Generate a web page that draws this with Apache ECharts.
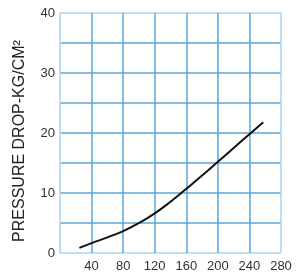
<!DOCTYPE html>
<html><head><meta charset="utf-8">
<script src="https://cdn.jsdelivr.net/npm/echarts@6/dist/echarts.min.js"></script>
<style>html,body{margin:0;padding:0;background:#fff}#c{width:306px;height:280px}</style>
</head><body><div id="c"></div>
<script>
const flowX = [24.5, 40, 60, 80, 100, 120, 140, 160, 180, 200, 220, 240, 257.5];
const pressureDrop = [0.85, 1.65, 2.6, 3.65, 5.0, 6.6, 8.55, 10.7, 12.9, 15.2, 17.5, 19.8, 21.8];
const xTicks = [0, 40, 80, 120, 160, 200, 240, 280];
const yTicks = [0, 10, 20, 30, 40];
const yName = 'PRESSURE DROP-KG/CM\u00B2';

const edge = '#aed3ec', inner = '#5ba6d9';
const chart = echarts.init(document.getElementById('c'));
chart.setOption({
  animation: false,
  grid: {left: 60, right: 25, top: 13, bottom: 27},
  xAxis: {
    type: 'value', min: xTicks[0], max: xTicks[xTicks.length-1], interval: 40,
    axisLine: {show: false}, axisTick: {show: false},
    axisLabel: {showMinLabel: false, color: '#333', fontSize: 13, fontFamily: 'Liberation Sans', margin: 7},
    splitLine: {show: true, lineStyle: {color: [edge, inner, inner, inner, inner, inner, inner, edge], width: 1.5}}
  },
  yAxis: {
    type: 'value', min: yTicks[0], max: yTicks[yTicks.length-1], interval: 5,
    name: yName, nameLocation: 'middle', nameGap: 32, nameRotate: 90,
    nameTextStyle: {color: '#222', fontSize: 16, fontFamily: 'Liberation Sans', padding: [0, 16, 0, 0]},
    axisLine: {show: false}, axisTick: {show: false},
    axisLabel: {color: '#333', fontSize: 13, fontFamily: 'Liberation Sans', margin: 5, padding: [6, 0, 0, 0],
      formatter: v => (v % 10 === 0 ? String(v) : '')},
    splitLine: {show: true, lineStyle: {color: [edge, inner, inner, inner, inner, inner, inner, inner, edge], width: 1.5}}
  },
  series: [{
    type: 'line', data: flowX.map((x, i) => [x, pressureDrop[i]]),
    smooth: true, showSymbol: false,
    lineStyle: {color: '#111', width: 2}
  }]
});
</script></body></html>
